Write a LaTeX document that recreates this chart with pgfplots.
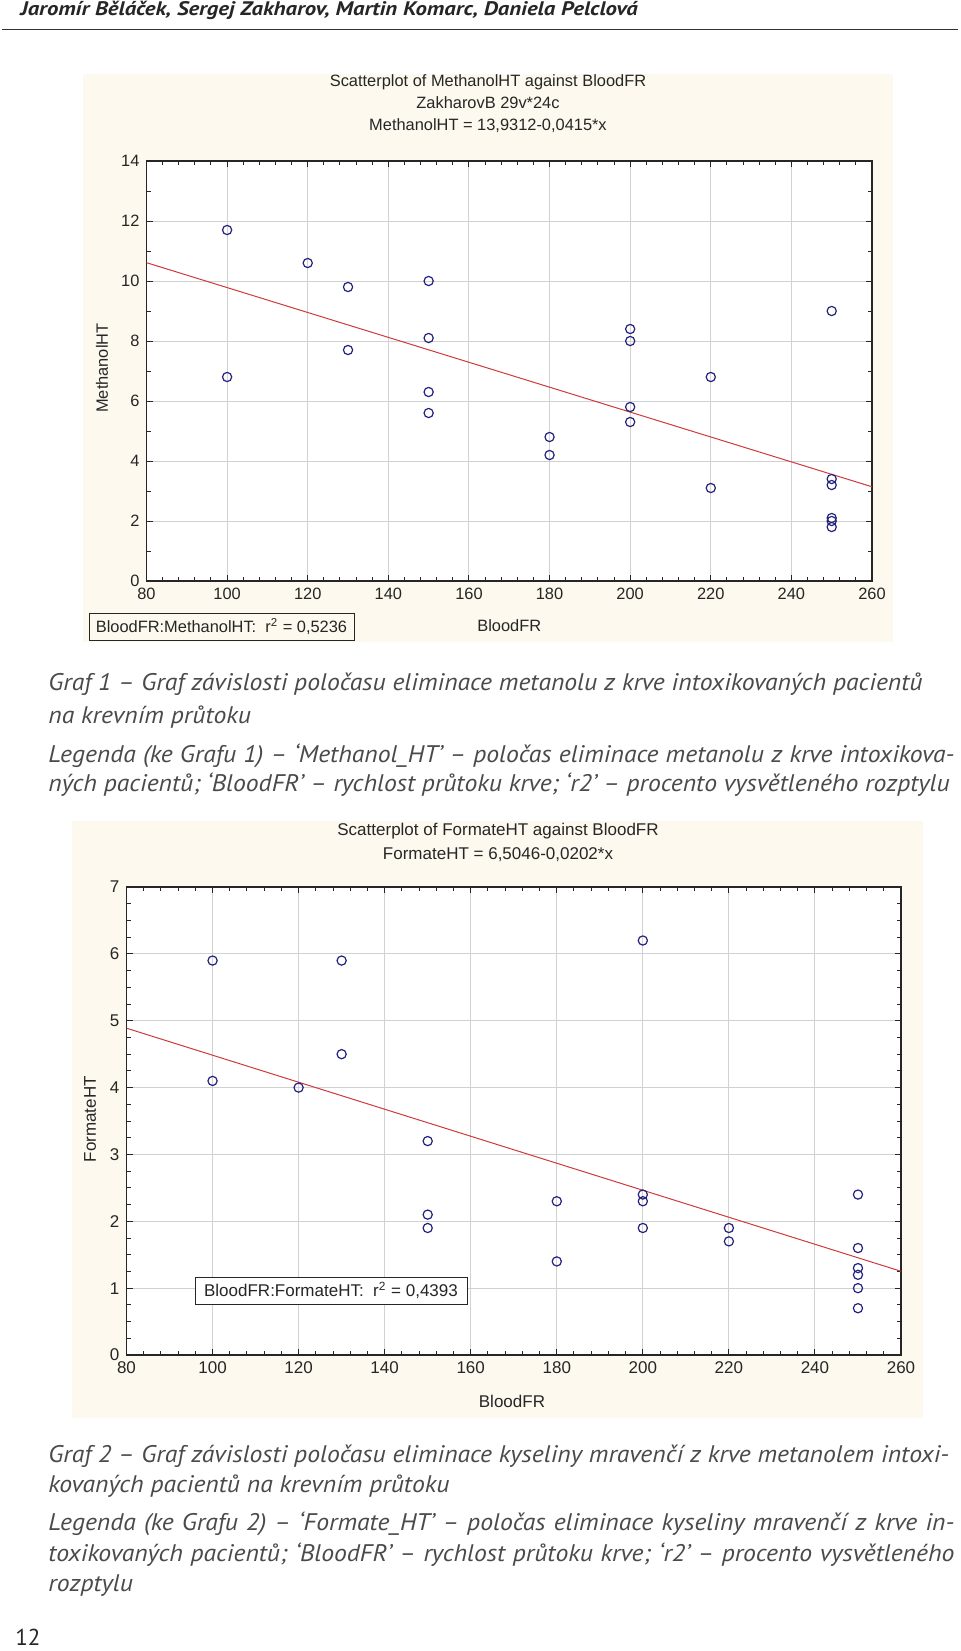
\documentclass[border=0pt]{standalone}
\usepackage{pgfplots}
\usepackage{pgfplotstable}
\pgfplotsset{compat=1.18}
\usepackage{fontspec}
\setmainfont{PT Sans}
\newfontfamily\chartfont{Liberation Sans}
\newfontfamily\headfont[FakeStretch=1.16]{PT Sans}
\newfontfamily\captfont[FakeStretch=1.07]{PT Sans}

\definecolor{panel}{HTML}{FDF9EE}
\definecolor{ptblue}{HTML}{23237F}
\definecolor{fitred}{HTML}{D03A3A}
\definecolor{captxt}{HTML}{4A4A4A}

% BloodFR vs half-times, read off the scatterplots
\pgfplotstableread{
x y
100 11.7
100 6.8
120 10.6
130 9.8
130 7.7
150 10.0
150 8.1
150 6.3
150 5.6
180 4.8
180 4.2
200 8.4
200 8.0
200 5.8
200 5.3
220 6.8
220 3.1
250 9.0
250 3.4
250 3.2
250 2.1
250 2.0
250 1.8
}\methanol

\pgfplotstableread{
x y
100 5.9
100 4.1
120 4.0
130 5.9
130 4.5
150 3.2
150 2.1
150 1.9
180 2.3
180 1.4
200 6.2
200 2.4
200 2.3
200 1.9
220 1.9
220 1.7
250 2.4
250 1.6
250 1.3
250 1.2
250 1.0
250 0.7
}\formate

\pgfplotsset{stat/.style={
  scale only axis, xmin=80, xmax=260, xtick={80,100,...,260}, minor x tick num=4,
  tick align=inside,
  grid=major, major grid style={black!18, line width=0.5pt},
  axis line style={line width=0.7pt, black!85},
  tick style={black!85, line width=0.5pt}, major tick length=3pt, minor tick length=2pt,
  /pgf/number format/assume math mode=true,
  ticklabel style={font=\chartfont\fontsize{8.2}{9}\selectfont, text=black!85},
  label style={font=\chartfont\fontsize{8.2}{9}\selectfont, text=black!85},
  title style={font=\chartfont\fontsize{8.2}{11}\selectfont, text=black!85, align=center, anchor=center},
  xlabel style={anchor=center}, ylabel style={anchor=center},
  xlabel={BloodFR},
}}

\begin{document}
\begin{tikzpicture}
\useasboundingbox (0,0) rectangle (480pt,-825.5pt);

% header
\node[anchor=base west, inner sep=0pt, text=black!85,
  font=\headfont\fontsize{9.8}{11}\selectfont\bfseries\itshape] at (10pt,-7.7pt)
  {Jaromír Běláček, Sergej Zakharov, Martin Komarc, Daniela Pelclová};
\draw[black!80, line width=0.8pt] (1pt,-14.7pt) -- (479pt,-14.7pt);

% ---- Graf 1
\fill[panel] (41.5pt,-37pt) rectangle (446.5pt,-321pt);
\begin{axis}[stat, at={(73.25pt,-290.5pt)}, anchor=south west,
  width=362.75pt, height=210pt,
  ymin=0, ymax=14, ytick={0,2,...,14}, minor y tick num=1,
  axis background/.style={fill=white},
  title={Scatterplot of MethanolHT against BloodFR\\ZakharovB 29v*24c\\MethanolHT = 13,9312-0,0415*x},
  title style={at={(axis description cs:0.4707,1.107)}},
  xlabel style={at={(axis description cs:0.5,-0.107)}},
  ylabel={MethanolHT},
  ylabel style={at={(axis description cs:-0.0613,0.507)}},
]
\addplot[fitred, line width=0.5pt] coordinates {(80,10.6112) (260,3.1412)};
\addplot[only marks, mark=o, mark size=2.3pt, ptblue, mark options={line width=0.6pt}] table {\methanol};
\end{axis}
\node[draw=black!85, line width=0.5pt, fill=panel, minimum width=132.5pt, minimum height=13.5pt,
  inner sep=0pt, font=\chartfont\fontsize{8.2}{9}\selectfont, text=black!85]
  at (110.75pt,-313.25pt) {BloodFR:MethanolHT:\ \ r\textsuperscript{2} = 0,5236};

% caption 1
\begin{scope}[every node/.style={anchor=base west, inner sep=0pt, text=captxt,
  font=\captfont\fontsize{12}{13}\selectfont\itshape}]
\node at (24pt,-345pt) {Graf 1 – Graf závislosti poločasu eliminace metanolu z krve intoxikovaných pacientů};
\node at (24pt,-361.5pt) {na krevním průtoku};
\node at (24pt,-381pt) {\makebox[453pt][s]{Legenda (ke Grafu 1) – ‘Methanol\_HT’ – poločas eliminace metanolu z krve intoxikova-}};
\node at (24pt,-395.5pt) {ných pacientů; ‘BloodFR’ – rychlost průtoku krve; ‘r2’ – procento vysvětleného rozptylu};
\end{scope}

% ---- Graf 2
\fill[panel] (36pt,-410.5pt) rectangle (461.5pt,-709pt);
\begin{axis}[stat, at={(63.25pt,-677.5pt)}, anchor=south west,
  width=387.25pt, height=234pt,
  ymin=0, ymax=7, ytick={0,1,...,7}, minor y tick num=3,
  axis background/.style={fill=white},
  title={Scatterplot of FormateHT against BloodFR\\FormateHT = 6,5046-0,0202*x},
  title style={at={(axis description cs:0.4797,1.0705)}, font=\chartfont\fontsize{8.5}{12}\selectfont},
  ticklabel style={font=\chartfont\fontsize{8.5}{9}\selectfont},
  label style={font=\chartfont\fontsize{8.5}{9}\selectfont},
  xlabel style={at={(axis description cs:0.4977,-0.0983)}},
  ylabel={FormateHT},
  ylabel style={at={(axis description cs:-0.0471,0.504)}},
]
\addplot[fitred, line width=0.5pt] coordinates {(80,4.8886) (260,1.2526)};
\addplot[only marks, mark=o, mark size=2.3pt, ptblue, mark options={line width=0.6pt}] table {\formate};
\end{axis}
\node[draw=black!85, line width=0.5pt, fill=white, minimum width=136pt, minimum height=13.5pt,
  inner sep=0pt, font=\chartfont\fontsize{8.5}{9}\selectfont, text=black!85]
  at (165.5pt,-645.25pt) {BloodFR:FormateHT:\ \ r\textsuperscript{2} = 0,4393};

% caption 2
\begin{scope}[every node/.style={anchor=base west, inner sep=0pt, text=captxt,
  font=\captfont\fontsize{12}{13}\selectfont\itshape}]
\node at (24pt,-731pt) {Graf 2 – Graf závislosti poločasu eliminace kyseliny mravenčí z krve metanolem intoxi-};
\node at (24pt,-746pt) {kovaných pacientů na krevním průtoku};
\node at (24pt,-765pt) {\makebox[453pt][s]{Legenda (ke Grafu 2) – ‘Formate\_HT’ – poločas eliminace kyseliny mravenčí z krve in-}};
\node at (24pt,-780.5pt) {\makebox[453pt][s]{toxikovaných pacientů; ‘BloodFR’ – rychlost průtoku krve; ‘r2’ – procento vysvětleného}};
\node at (24pt,-795.5pt) {rozptylu};
\end{scope}

% page number
\node[anchor=base west, inner sep=0pt, text=black!85, font=\fontsize{11.5}{13}\selectfont] at (7.5pt,-822.5pt) {12};
\end{tikzpicture}
\end{document}
